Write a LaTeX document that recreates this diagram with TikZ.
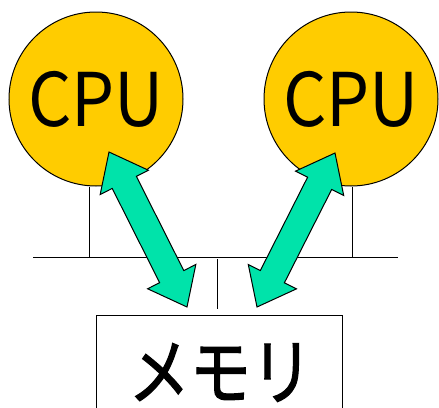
\documentclass[tikz,border=0pt]{standalone}
\usepackage{fontspec}
\setmainfont{Noto Sans CJK JP}
\newfontfamily\heavycjk{Noto Sans CJK JP}[FakeBold=1.6]
\usetikzlibrary{calc}
\definecolor{cpuyellow}{HTML}{FFCC00}
\definecolor{linkgreen}{HTML}{00E3AA}
\tikzset{
  cpu/.style={circle, draw=black, line width=1pt, fill=cpuyellow,
    minimum size=174pt, inner sep=0pt, font=\fontsize{74}{74}\selectfont},
  membox/.style={draw=black, line width=1pt, fill=white},
  busline/.style={draw=black, line width=1pt},
  linkarrow/.style={draw=black, line width=1pt, fill=linkgreen, line join=miter}
}
% filled double-headed block arrow between two named points
% #1,#2: end points; head length 34pt, head half-width 27pt, shaft half-width 13.5pt
\newcommand\blockarrow[2]{%
  \path[linkarrow] (#1)
    -- ($(#1)!34pt!(#2)!27pt!90:(#2)$)
    -- ($(#1)!34pt!(#2)!13.5pt!90:(#2)$)
    -- ($(#2)!34pt!(#1)!13.5pt!-90:(#1)$)
    -- ($(#2)!34pt!(#1)!27pt!-90:(#1)$)
    -- (#2)
    -- ($(#2)!34pt!(#1)!27pt!90:(#1)$)
    -- ($(#2)!34pt!(#1)!13.5pt!90:(#1)$)
    -- ($(#1)!34pt!(#2)!13.5pt!-90:(#2)$)
    -- ($(#1)!34pt!(#2)!27pt!-90:(#2)$)
    -- cycle;}
\begin{document}
\begin{tikzpicture}[x=1pt, y=-1pt]
  \useasboundingbox (0,0) rectangle (439,407);
  \clip (0,0) rectangle (439,407);

  % memory module, running off the lower edge
  \node[membox, anchor=north west, minimum width=246pt, minimum height=120pt]
    (mem) at (96,315) {};
  \node[inner sep=0pt, font=\fontsize{73}{73}\heavycjk] (memlabel) at (220.5,372.5)
    {\scalebox{0.84}[1]{メモリ}};

  % processors
  \node[cpu] (cpu1) at (96,99) {\scalebox{0.92}[1]{CPU}};
  \node[cpu] (cpu2) at (351,99) {\scalebox{0.92}[1]{CPU}};

  % shared bus
  \coordinate (busL) at (33,257);
  \coordinate (busR) at (398,257);
  \coordinate (tap1) at (89,257);
  \coordinate (tap2) at (352,257);
  \coordinate (tapm) at (217,259);
  \coordinate (tapmend) at (217,309);
  \draw[busline] (busL) -- (busR);
  \draw[busline] (cpu1.south -| tap1) -- (tap1);
  \draw[busline] (cpu2.south -| tap2) -- (tap2);
  \draw[busline] (tapm) -- (tapmend);

  % processor <-> memory transfers
  \coordinate (l1) at (109,152);
  \coordinate (l2) at (187,307);
  \coordinate (r1) at (335,153);
  \coordinate (r2) at (257,307);
  \blockarrow{l1}{l2}
  \blockarrow{r1}{r2}
\end{tikzpicture}
\end{document}
